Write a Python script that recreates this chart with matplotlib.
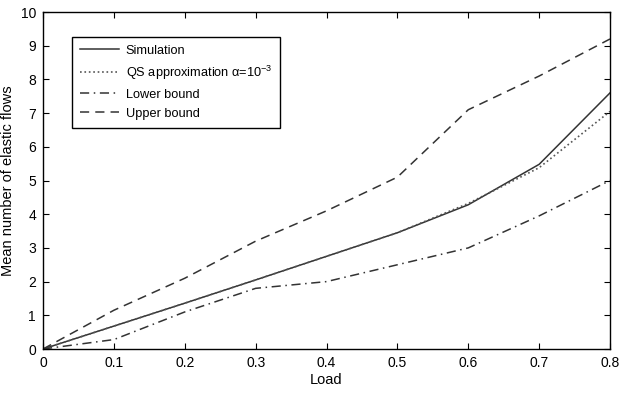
import numpy as np
import matplotlib
matplotlib.use('Agg')
import matplotlib.pyplot as plt

plt.rcParams['font.family'] = ['Liberation Sans', 'DejaVu Sans']
plt.rcParams['mathtext.fontset'] = 'custom'
plt.rcParams['mathtext.rm'] = 'Liberation Sans'

load = [0.0, 0.1, 0.2, 0.3, 0.4, 0.5, 0.6, 0.7, 0.8]
simulation = [0.0, 0.68, 1.36, 2.05, 2.75, 3.45, 4.28, 5.48, 7.6]
qs_approx = [0.0, 0.68, 1.36, 2.05, 2.75, 3.45, 4.32, 5.38, 7.05]
lower_bound = [0.0, 0.28, 1.1, 1.8, 2.0, 2.5, 3.0, 3.95, 5.0]
upper_bound = [0.0, 1.15, 2.1, 3.2, 4.1, 5.1, 7.1, 8.1, 9.2]

fig = plt.figure(figsize=(6.29, 3.94), dpi=100)
ax = fig.add_axes([0.0684, 0.1142, 0.9014, 0.8553])

c = '#333333'
l1, = ax.plot(load, simulation, '-', color=c, lw=1.1, label='Simulation')
l2, = ax.plot(load, qs_approx, ':', color='#555555', lw=1.2,
              label='QS approximation α=10$^{-3}$')
l3, = ax.plot(load, lower_bound, '-.', color=c, lw=1.1, dashes=(6, 3, 1, 3), label='Lower bound')
l4, = ax.plot(load, upper_bound, '--', color=c, lw=1.1, dashes=(6, 4), label='Upper bound')

ax.set_xlim(0, 0.8)
ax.set_ylim(0, 10)
ax.set_xticks(np.arange(0, 0.81, 0.1))
ax.set_xticklabels(['0', '0.1', '0.2', '0.3', '0.4', '0.5', '0.6', '0.7', '0.8'])
ax.set_yticks(range(0, 11))
ax.tick_params(direction='in', labelsize=10, length=4, pad=5, top=True, right=True)
for s in ax.spines.values():
    s.set_linewidth(1.0)
ax.set_xlabel('Load', fontsize=10.5, labelpad=2)
ax.set_ylabel('Mean number of elastic flows', fontsize=10.5, labelpad=4)

leg = ax.legend(handles=[l1, l2, l3, l4], loc='upper left', bbox_to_anchor=(0.0511, 0.926),
                fontsize=9.2, fancybox=False, edgecolor='black', framealpha=1,
                borderaxespad=0, handlelength=3.1, handletextpad=0.5,
                labelspacing=0.55, borderpad=0.6)
leg.get_frame().set_linewidth(1.0)

fig.savefig('out.png', dpi=100)
